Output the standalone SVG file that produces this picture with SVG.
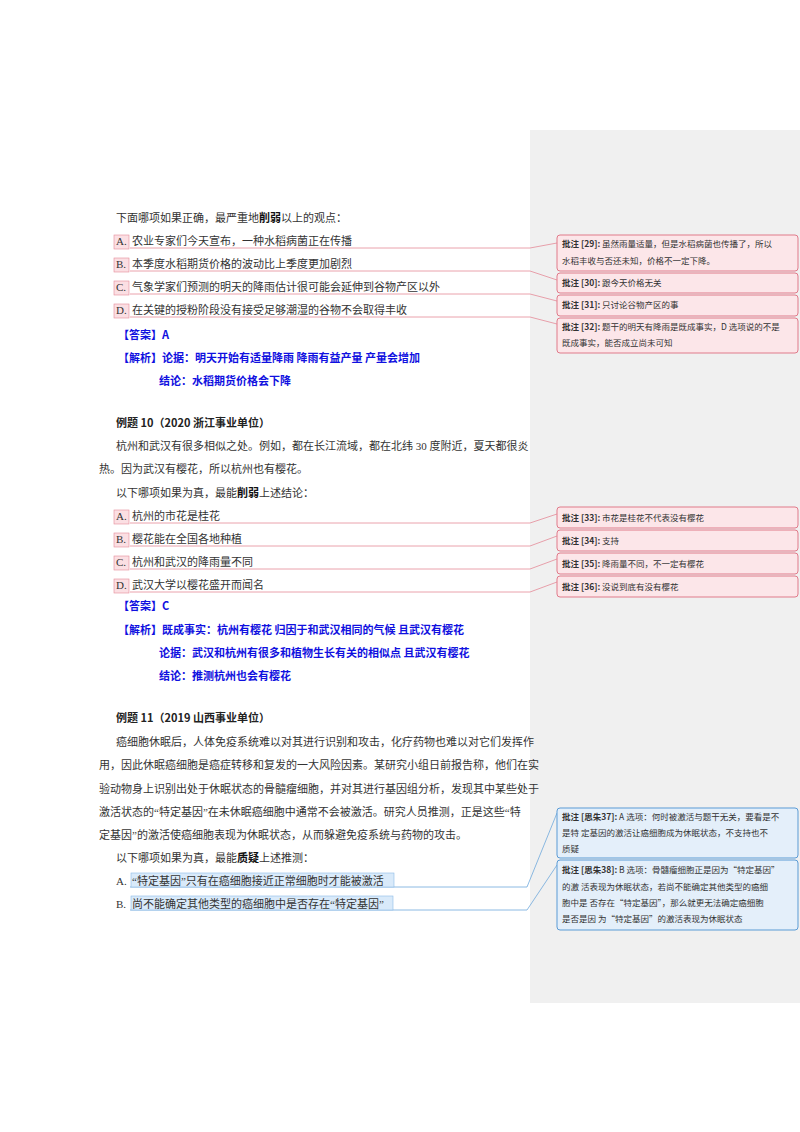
<svg xmlns="http://www.w3.org/2000/svg" width="800" height="1132" viewBox="0 0 800 1132">
<style>
text{font-family:"Liberation Serif","Noto Sans CJK SC",serif;font-size:11px;fill:#333}
.b{font-weight:bold;fill:#111}
.blue{fill:#1010e0;font-weight:bold;font-family:"Noto Sans CJK SC",sans-serif;font-size:11px}
.h{font-weight:bold;font-family:"Noto Sans CJK SC",sans-serif;font-size:11px;fill:#222}
.c{font-family:"Noto Sans CJK SC",sans-serif;font-size:8.5px;fill:#333}
.rb{fill:#fce6e9;stroke:#e07a8a;stroke-width:1}
.bb{fill:#e4effa;stroke:#5b9bd5;stroke-width:1}
.rl{fill:none;stroke:#e58a98;stroke-width:0.8}
.bl{fill:none;stroke:#6fa8dc;stroke-width:0.8}
.lab{fill:#fbdfe3;stroke:#e58a98;stroke-width:0.6}
.blab{fill:#d9eafa;stroke:#8dbbe6;stroke-width:0.6}
</style>
<rect width="800" height="1132" fill="#fff"/>
<rect x="530" y="130" width="270" height="873" fill="#f0f0f0"/>
<g id="connectors">
<path class="rl" d="M130 248H530L557 243"/>
<path class="rl" d="M130 271H530L557 280"/>
<path class="rl" d="M130 294H530L557 301"/>
<path class="rl" d="M130 317H530L557 324"/>
<path class="rl" d="M130 523H530L557 514"/>
<path class="rl" d="M130 546H530L557 536"/>
<path class="rl" d="M130 569H530L557 559"/>
<path class="rl" d="M130 592H530L557 582"/>
<path class="bl" d="M130 887H527L557 813"/>
<path class="bl" d="M130 910H527L557 865"/>
</g>
<g id="main">
<text x="116" y="222">下面哪项如果正确，最严重地<tspan class="b">削弱</tspan>以上的观点：</text>
<rect class="lab" x="114" y="235" width="15" height="14"/>
<rect class="lab" x="114" y="258" width="15" height="14"/>
<rect class="lab" x="114" y="281" width="15" height="14"/>
<rect class="lab" x="114" y="304" width="15" height="14"/>
<text x="116" y="245">A.</text><text x="132" y="245">农业专家们今天宣布，一种水稻病菌正在传播</text>
<text x="116" y="268">B.</text><text x="132" y="268">本季度水稻期货价格的波动比上季度更加剧烈</text>
<text x="116" y="291">C.</text><text x="132" y="291">气象学家们预测的明天的降雨估计很可能会延伸到谷物产区以外</text>
<text x="116" y="314">D.</text><text x="132" y="314">在关键的授粉阶段没有接受足够潮湿的谷物不会取得丰收</text>
<text class="blue" x="118" y="339">【答案】A</text>
<text class="blue" x="118" y="362">【解析】论据：明天开始有适量降雨 降雨有益产量 产量会增加</text>
<text class="blue" x="159" y="385">结论：水稻期货价格会下降</text>
<text class="h" x="116" y="427">例题 10（2020 浙江事业单位）</text>
<text x="116" y="450">杭州和武汉有很多相似之处。例如，都在长江流域，都在北纬 30 度附近，夏天都很炎</text>
<text x="99" y="473">热。因为武汉有樱花，所以杭州也有樱花。</text>
<text x="116" y="497">以下哪项如果为真，最能<tspan class="b">削弱</tspan>上述结论：</text>
<rect class="lab" x="114" y="510" width="15" height="14"/>
<rect class="lab" x="114" y="533" width="15" height="14"/>
<rect class="lab" x="114" y="556" width="15" height="14"/>
<rect class="lab" x="114" y="579" width="15" height="14"/>
<text x="116" y="520">A.</text><text x="132" y="520">杭州的市花是桂花</text>
<text x="116" y="543">B.</text><text x="132" y="543">樱花能在全国各地种植</text>
<text x="116" y="566">C.</text><text x="132" y="566">杭州和武汉的降雨量不同</text>
<text x="116" y="589">D.</text><text x="132" y="589">武汉大学以樱花盛开而闻名</text>
<text class="blue" x="118" y="610">【答案】C</text>
<text class="blue" x="118" y="634">【解析】既成事实：杭州有樱花 归因于和武汉相同的气候 且武汉有樱花</text>
<text class="blue" x="159" y="657">论据：武汉和杭州有很多和植物生长有关的相似点 且武汉有樱花</text>
<text class="blue" x="159" y="680">结论：推测杭州也会有樱花</text>
<text class="h" x="116" y="722">例题 11（2019 山西事业单位）</text>
<text x="116" y="746">    癌细胞休眠后，人体免疫系统难以对其进行识别和攻击，化疗药物也难以对它们发挥作</text>
<text x="99" y="769">用，因此休眠癌细胞是癌症转移和复发的一大风险因素。某研究小组日前报告称，他们在实</text>
<text x="99" y="793">验动物身上识别出处于休眠状态的骨髓瘤细胞，并对其进行基因组分析，发现其中某些处于</text>
<text x="99" y="816">激活状态的“特定基因”在未休眠癌细胞中通常不会被激活。研究人员推测，正是这些“特</text>
<text x="99" y="839">定基因”的激活使癌细胞表现为休眠状态，从而躲避免疫系统与药物的攻击。</text>
<text x="116" y="862">以下哪项如果为真，最能<tspan class="b">质疑</tspan>上述推测：</text>
<rect class="blab" x="131" y="873" width="263" height="14"/>
<rect class="blab" x="131" y="896" width="262" height="14"/>
<text x="116" y="885">A.</text><text x="132" y="885">“特定基因”只有在癌细胞接近正常细胞时才能被激活</text>
<text x="116" y="908">B.</text><text x="132" y="908">尚不能确定其他类型的癌细胞中是否存在“特定基因”</text>
</g>
<g id="c29"><rect class="rb" x="557" y="235" width="241" height="36" rx="3"/><text class="c" x="562" y="247"><tspan font-weight="bold">批注 [29]:</tspan> 虽然雨量适量，但是水稻病菌也传播了，所以</text><text class="c" x="562" y="264">水稻丰收与否还未知，价格不一定下降。</text></g>
<g id="c30"><rect class="rb" x="557" y="273" width="241" height="20" rx="3"/><text class="c" x="562" y="286"><tspan font-weight="bold">批注 [30]:</tspan> 跟今天价格无关</text></g>
<g id="c31"><rect class="rb" x="557" y="295" width="241" height="21" rx="3"/><text class="c" x="562" y="308"><tspan font-weight="bold">批注 [31]:</tspan> 只讨论谷物产区的事</text></g>
<g id="c32"><rect class="rb" x="557" y="318" width="241" height="35" rx="3"/><text class="c" x="562" y="330"><tspan font-weight="bold">批注 [32]:</tspan> 题干的明天有降雨是既成事实，D 选项说的不是</text><text class="c" x="562" y="346">既成事实，能否成立尚未可知</text></g>
<g id="c33"><rect class="rb" x="557" y="507" width="241" height="21" rx="3"/><text class="c" x="562" y="521"><tspan font-weight="bold">批注 [33]:</tspan> 市花是桂花不代表没有樱花</text></g>
<g id="c34"><rect class="rb" x="557" y="530" width="241" height="21" rx="3"/><text class="c" x="562" y="544"><tspan font-weight="bold">批注 [34]:</tspan> 支持</text></g>
<g id="c35"><rect class="rb" x="557" y="553" width="241" height="21" rx="3"/><text class="c" x="562" y="567"><tspan font-weight="bold">批注 [35]:</tspan> 降雨量不同，不一定有樱花</text></g>
<g id="c36"><rect class="rb" x="557" y="576" width="241" height="21" rx="3"/><text class="c" x="562" y="590"><tspan font-weight="bold">批注 [36]:</tspan> 没说到底有没有樱花</text></g>
<g id="c37"><rect class="bb" x="557" y="808" width="241" height="50" rx="3"/><text class="c" x="562" y="820"><tspan font-weight="bold">批注 [思朱37]:</tspan> A 选项：何时被激活与题干无关，要看是不</text><text class="c" x="562" y="836">是特  定基因的激活让癌细胞成为休眠状态，不支持也不</text><text class="c" x="562" y="852">质疑</text></g>
<g id="c38"><rect class="bb" x="557" y="860" width="241" height="70" rx="3"/><text class="c" x="562" y="873"><tspan font-weight="bold">批注 [思朱38]:</tspan> B  选项：骨髓瘤细胞正是因为“特定基因”</text><text class="c" x="562" y="890">的激  活表现为休眠状态，若尚不能确定其他类型的癌细</text><text class="c" x="562" y="906">胞中是  否存在“特定基因”，那么就更无法确定癌细胞</text><text class="c" x="562" y="922">是否是因  为“特定基因”的激活表现为休眠状态</text></g>
</svg>
